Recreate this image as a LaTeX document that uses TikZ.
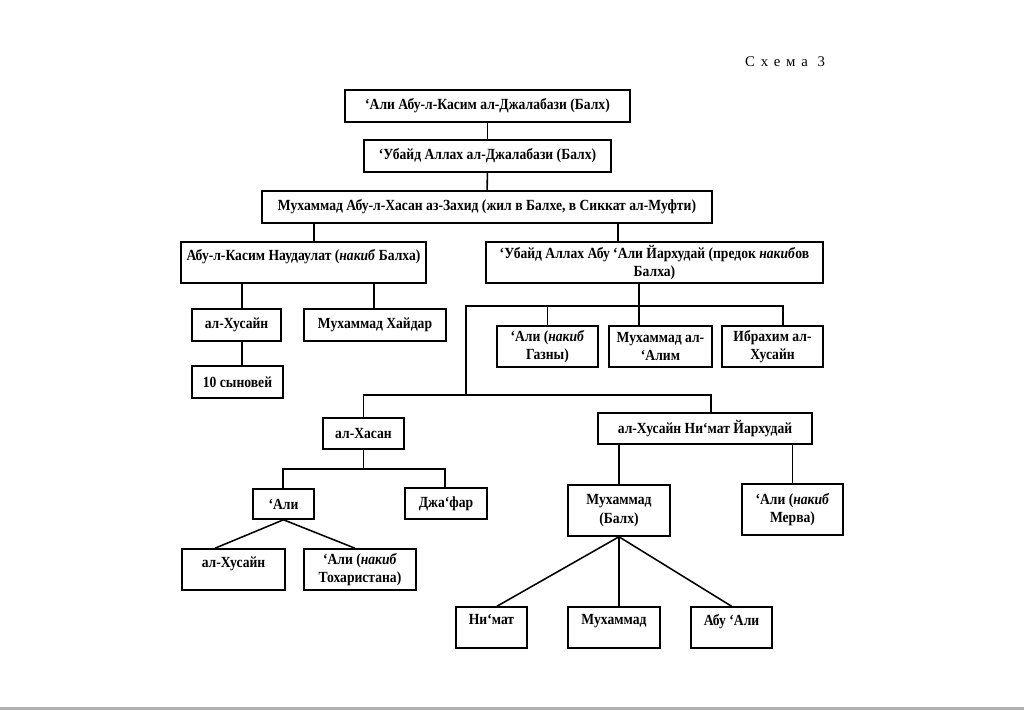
\documentclass[tikz,border=0pt]{standalone}
\usepackage{fontspec}
\setmainfont{Liberation Serif}[FakeStretch=0.88]
\newfontfamily\schemefont{Liberation Serif}[LetterSpace=40]
\usetikzlibrary{positioning}
\tikzset{
  % Box styles
  personbox/.style={rectangle, draw=black, line width=1.1pt, fill=white, font=\bfseries\fontsize{11}{13}\selectfont, align=center, inner sep=2pt},
  upperbox/.style={personbox, text depth=11pt},
  boxdim/.style 2 args={minimum width=#1*0.025cm, minimum height=#2*0.025cm},
  % Line styles
  link/.style={line width=1.1pt, black}
}

\begin{document}
\begin{tikzpicture}[x=0.025cm, y=-0.025cm]
  \useasboundingbox (0,0) rectangle (1024,710);
  \node[font=\schemefont\fontsize{10.5}{12}\selectfont] (title) at (785,62) {Схема 3};

  % Upper line
  \node[personbox, boxdim={285}{32}] (ali0) at (487.5,106) {‘Али Абу-л-Касим ал-Джалабази (Балх)};
  \node[personbox, boxdim={247}{32}] (ubayd0) at (487.5,156) {‘Убайд Аллах ал-Джалабази (Балх)};
  \node[personbox, boxdim={450}{32}] (zahid) at (487,207) {Мухаммад Абу-л-Хасан аз-Захид (жил в Балхе, в Сиккат ал-Муфти)};

  % Sons of Muhammad az-Zahid
  \node[upperbox, boxdim={245}{41}] (naudaulat) at (303.5,262.5) {Абу-л-Касим Наудаулат (\textit{накиб} Балха)};
  \node[personbox, boxdim={337}{41}] (yarkhuday) at (654.5,262.5) {‘Убайд Аллах Абу ‘Али Йархудай (предок \textit{накиб}ов\\Балха)};

  % Line of Abu-l-Qasim
  \node[personbox, boxdim={89}{32}] (husayn1) at (236.5,325) {ал-Хусайн};
  \node[personbox, boxdim={142}{32}] (haydar) at (375,325) {Мухаммад Хайдар};
  \node[personbox, boxdim={91}{32}] (sons) at (237.5,382) {10 сыновей};

  % Sons of Yarkhuday
  \node[personbox, boxdim={101}{41}] (aliGhazna) at (547.5,346.5) {‘Али (\textit{накиб}\\Газны)};
  \node[personbox, boxdim={103}{41}] (alim) at (660.5,346.5) {Мухаммад ал-\\‘Алим};
  \node[personbox, boxdim={101}{41}] (ibrahim) at (772.5,346.5) {Ибрахим ал-\\Хусайн};
  \node[personbox, boxdim={81}{31}] (hasan) at (363.5,433.5) {ал-Хасан};
  \node[personbox, boxdim={214}{31}] (husaynN) at (705,428.5) {ал-Хусайн Ни‘мат Йархудай};

  % Line of al-Hasan
  \node[personbox, boxdim={61}{30}] (ali1) at (283.5,504) {‘Али};
  \node[personbox, boxdim={82}{31}] (jafar) at (446,503.5) {Джа‘фар};
  \node[upperbox, boxdim={103}{41}] (husayn2) at (233.5,569.5) {ал-Хусайн};
  \node[personbox, boxdim={112}{41}] (aliTokh) at (360,569.5) {‘Али (\textit{накиб}\\Тохаристана)};

  % Line of al-Husayn Ni'mat
  \node[personbox, boxdim={102}{51}] (muhBalkh) at (619,510.5) {Мухаммад\\(Балх)};
  \node[personbox, boxdim={101}{51}] (aliMerv) at (792.5,509.5) {‘Али (\textit{накиб}\\Мерва)};
  \node[upperbox, boxdim={71}{41}] (nimat) at (491.5,627.5) {Ни‘мат};
  \node[upperbox, boxdim={92}{41}] (muh2) at (614,627.5) {Мухаммад};
  \node[upperbox, boxdim={81}{41}] (abuAli) at (731.5,627.5) {Абу ‘Али};

  % Junction points
  \coordinate (dropL) at (314,0);
  \coordinate (dropR) at (618,0);
  \coordinate (dropHus) at (242,0);
  \coordinate (dropHay) at (374,0);
  \coordinate (trunkY) at (639,0);
  \coordinate (barA) at (466,306);
  \coordinate (barAend) at (783,306);
  \coordinate (barB) at (466,395);
  \coordinate (dropN) at (711,0);
  \coordinate (barC) at (283,469);
  \coordinate (barCend) at (445,469);
  \coordinate (footL) at (215,0);
  \coordinate (footR) at (355,0);
  \coordinate (footN) at (497,0);

  % Connectors
  \draw[link] (ali0) -- (ubayd0);
  \draw[link] (ubayd0) -- (zahid);
  \draw[link] (zahid.south -| dropL) -- (naudaulat.north -| dropL);
  \draw[link] (zahid.south -| dropR) -- (yarkhuday.north -| dropR);
  \draw[link] (naudaulat.south -| dropHus) -- (husayn1.north -| dropHus);
  \draw[link] (naudaulat.south -| dropHay) -- (haydar.north -| dropHay);
  \draw[link] (husayn1.south -| dropHus) -- (sons.north -| dropHus);
  \draw[link] (yarkhuday.south -| trunkY) -- (alim.north -| trunkY);
  \draw[link] (barB) -- (barA) -- (barAend) -- (ibrahim.north -| barAend);
  \draw[link] (aliGhazna.north) -- (aliGhazna.north |- barA);
  \draw[link] (hasan.north) -- (hasan.north |- barB) -- (barB -| dropN) -- (husaynN.north -| dropN);
  \draw[link] (hasan.south) -- (hasan.south |- barC);
  \draw[link] (ali1.north -| barC) -- (barC) -- (barCend) -- (jafar.north -| barCend);
  \draw[link] (ali1.south) -- (husayn2.north -| footL);
  \draw[link] (ali1.south) -- (aliTokh.north -| footR);
  \draw[link] (husaynN.south -| muhBalkh) -- (muhBalkh);
  \draw[link] (husaynN.south -| aliMerv) -- (aliMerv);
  \draw[link] (muhBalkh.south) -- (nimat.north -| footN);
  \draw[link] (muhBalkh.south) -- (muh2.north -| muhBalkh.south);
  \draw[link] (muhBalkh.south) -- (abuAli.north);

  % Page edge
  \draw[gray!60, line width=1.5pt] (0,708.5) -- (1024,708.5);
\end{tikzpicture}
\end{document}
